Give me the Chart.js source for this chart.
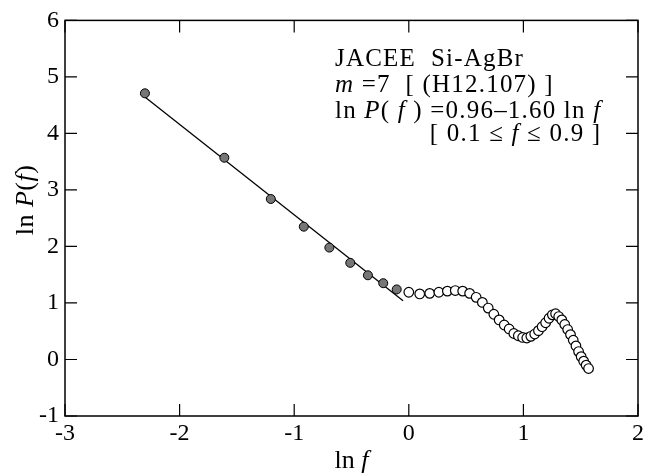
<!DOCTYPE html>
<html>
<head>
<meta charset="utf-8">
<script src="https://cdn.jsdelivr.net/npm/chart.js@4.4.0/dist/chart.umd.min.js"></script>
<style>
  html, body { margin: 0; padding: 0; background: #fff; }
  #wrap { width: 647px; height: 475px; }
</style>
</head>
<body>
<div id="wrap"><canvas id="chart" width="647" height="475"></canvas></div>
<script>
// fitted region 0.1 <= f <= 0.9 (filled dots), ln f on x
const fitF = [0.1, 0.2, 0.3, 0.4, 0.5, 0.6, 0.7, 0.8, 0.9];
const fitLnP = [4.71, 3.57, 2.84, 2.35, 1.98, 1.71, 1.49, 1.35, 1.24];

// f >= 1.0 (open dots)
const restF = [1.0, 1.1, 1.2, 1.3, 1.4, 1.5, 1.6, 1.7, 1.8, 1.9,
               2.0, 2.1, 2.2, 2.3, 2.4, 2.5, 2.6, 2.7, 2.8, 2.9,
               3.0, 3.1, 3.2, 3.3, 3.4, 3.5, 3.6, 3.7, 3.8, 3.9,
               4.0, 4.1, 4.2, 4.3, 4.4, 4.5, 4.6, 4.7, 4.8];
const restLnP = [1.19, 1.16, 1.17, 1.19, 1.21, 1.22, 1.21, 1.17, 1.10, 1.01,
                 0.91, 0.80, 0.70, 0.61, 0.54, 0.46, 0.42, 0.39, 0.38, 0.41,
                 0.45, 0.51, 0.58, 0.65, 0.73, 0.79, 0.81, 0.76, 0.70, 0.62,
                 0.53, 0.44, 0.34, 0.24, 0.14, 0.05, -0.03, -0.10, -0.16];

// straight fit line end points (ln f, ln P)
const lineX = [-2.30, -0.05];
const lineY = [4.64, 1.04];

const xTicks = [-3, -2, -1, 0, 1, 2];
const yTicks = [-1, 0, 1, 2, 3, 4, 5, 6];

const toPts = (xs, ys) => xs.map((x, i) => ({ x: x, y: ys[i] }));
const SERIF = '"Liberation Serif", "DejaVu Serif", serif';

// draws a row of text pieces, some italic
function drawRuns(ctx, runs, x, y, size, align, spacing) {
  ctx.letterSpacing = (spacing || 0) + 'px';
  let total = 0;
  runs.forEach(r => {
    ctx.font = (r[1] ? 'italic ' : '') + size + 'px ' + SERIF;
    total += ctx.measureText(r[0]).width;
  });
  let cx = align === 'right' ? x - total : align === 'center' ? x - total / 2 : x;
  ctx.textAlign = 'left';
  ctx.textBaseline = 'alphabetic';
  runs.forEach(r => {
    ctx.font = (r[1] ? 'italic ' : '') + size + 'px ' + SERIF;
    ctx.fillText(r[0], cx, y);
    cx += ctx.measureText(r[0]).width;
  });
  ctx.letterSpacing = '0px';
  return total;
}

const frame = {
  id: 'frame',
  afterDraw(chart) {
    const { ctx, chartArea: a, scales } = chart;
    ctx.save();
    ctx.strokeStyle = '#000';
    ctx.lineWidth = 1.5;
    ctx.strokeRect(a.left, a.top, a.right - a.left, a.bottom - a.top);

    // inward ticks on all four sides
    ctx.lineWidth = 1.2;
    ctx.beginPath();
    xTicks.forEach(v => {
      const px = scales.x.getPixelForValue(v);
      ctx.moveTo(px, a.bottom); ctx.lineTo(px, a.bottom - 12);
      ctx.moveTo(px, a.top); ctx.lineTo(px, a.top + 12);
    });
    yTicks.forEach(v => {
      const py = scales.y.getPixelForValue(v);
      ctx.moveTo(a.left, py); ctx.lineTo(a.left + 12, py);
      ctx.moveTo(a.right, py); ctx.lineTo(a.right - 12, py);
    });
    ctx.stroke();

    ctx.fillStyle = '#000';
    // axis titles
    drawRuns(ctx, [['ln ', false], ['f', true]], (a.left + a.right) / 2, 468, 26, 'center');
    ctx.save();
    ctx.translate(33, 200);
    ctx.rotate(-Math.PI / 2);
    drawRuns(ctx, [['ln ', false], ['P', true], ['(', false], ['f', true], [')', false]], 0, 0, 26, 'center', 0.5);
    ctx.restore();

    // annotation
    const tx = 335;
    drawRuns(ctx, [['JACEE  Si-AgBr', false]], tx, 66, 25, 'left', 1.2);
    drawRuns(ctx, [['m', true], [' =7  [ (H12.107) ]', false]], tx, 92, 25, 'left', 1.2);
    const w = drawRuns(ctx, [['ln ', false], ['P', true], ['( ', false], ['f', true],
      [' ) =0.96\u20131.60 ln ', false], ['f', true]], tx, 118, 25, 'left', 1.2);
    drawRuns(ctx, [['[ 0.1 \u2264 ', false], ['f', true], [' \u2264 0.9 ]', false]], tx + w, 141, 25, 'right', 1.2);
    ctx.restore();
  }
};

new Chart(document.getElementById('chart'), {
  type: 'scatter',
  data: {
    datasets: [
      {
        label: 'fit',
        data: toPts(lineX, lineY),
        showLine: true,
        borderColor: '#000',
        borderWidth: 1.3,
        pointRadius: 0,
        order: 3
      },
      {
        label: '0.1 <= f <= 0.9',
        data: toPts(fitF.map(Math.log), fitLnP),
        backgroundColor: '#767676',
        borderColor: '#000',
        borderWidth: 1,
        pointRadius: 4.5,
        order: 1
      },
      {
        label: 'f >= 1',
        data: toPts(restF.map(Math.log), restLnP),
        backgroundColor: '#fff',
        borderColor: '#000',
        borderWidth: 1.2,
        pointRadius: 4.8,
        order: 2
      }
    ]
  },
  options: {
    responsive: false,
    animation: false,
    layout: { padding: { top: 20, right: 7, left: 0, bottom: 0 } },
    plugins: { legend: { display: false }, tooltip: { enabled: false } },
    scales: {
      x: {
        type: 'linear', min: -3, max: 2,
        afterBuildTicks: s => { s.ticks = xTicks.map(v => ({ value: v })); },
        ticks: { color: '#000', font: { family: SERIF, size: 24 }, padding: 3, maxRotation: 0 },
        grid: { display: false, drawTicks: false },
        border: { display: false },
        afterFit: s => { s.height = 59; }
      },
      y: {
        type: 'linear', min: -1, max: 6,
        afterBuildTicks: s => { s.ticks = yTicks.map(v => ({ value: v })); },
        ticks: { color: '#000', font: { family: SERIF, size: 24 }, padding: 6 },
        grid: { display: false, drawTicks: false },
        border: { display: false },
        afterFit: s => { s.width = 65; }
      }
    }
  },
  plugins: [frame]
});
</script>
</body>
</html>
